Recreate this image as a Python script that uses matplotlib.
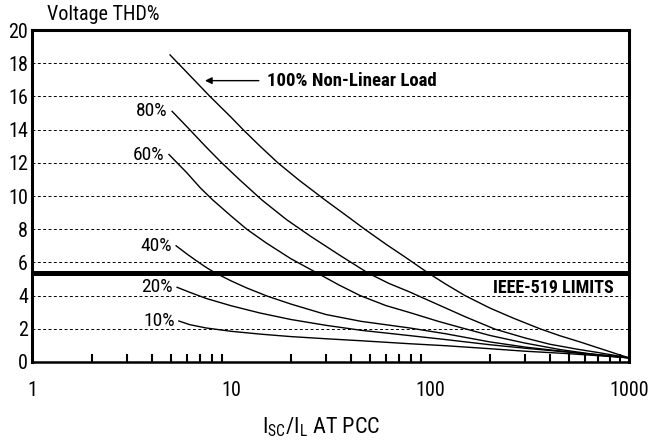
import matplotlib.pyplot as plt
from matplotlib.ticker import LogLocator, NullFormatter, FixedLocator

plt.rcParams['font.family'] = ['Roboto Condensed', 'Liberation Sans Narrow', 'Liberation Sans', 'DejaVu Sans']
plt.rcParams['mathtext.fontset'] = 'custom'
plt.rcParams['mathtext.rm'] = 'Roboto Condensed'

# Curves: (Isc/IL, voltage THD%)
x100 = [4.94, 6, 7.84, 10, 11.5, 14, 17.2, 22, 29.7, 38, 47, 60, 75, 98, 120, 150,
        200, 260, 357, 450, 570, 700, 850, 1000]
y100 = [18.5, 17.45, 16.0, 14.75, 14.0, 13.0, 12.0, 10.95, 9.76, 8.82, 8.0, 7.1, 6.32,
        5.36, 4.69, 4.0, 3.25, 2.66, 2.0, 1.58, 1.2, 0.85, 0.52, 0.25]

x80 = [5.06, 6.2, 7.5, 8.98, 11, 14.3, 19, 25, 35, 48.8, 62, 79, 110, 150, 212, 300,
       400, 550, 700, 1000]
y80 = [15.1, 14.0, 12.95, 12.0, 11.0, 9.76, 8.58, 7.59, 6.45, 5.36, 4.74, 4.22, 3.45,
       2.73, 1.98, 1.45, 1.07, 0.77, 0.57, 0.25]

x60 = [4.88, 6, 7, 8.1, 10, 12, 15, 20, 27, 35, 44.6, 60, 79, 110, 140, 200, 300,
       450, 650, 1000]
y60 = [12.5, 11.4, 10.5, 9.76, 8.8, 8.0, 7.18, 6.22, 5.37, 4.63, 4.0, 3.4, 2.98, 2.45,
       2.1, 1.6, 1.14, 0.75, 0.48, 0.25]

x40 = [5.3, 6, 6.7, 7.5, 8.3, 10, 12, 15.2, 20, 30, 45, 79, 120, 200, 300, 500, 700, 1000]
y40 = [7.0, 6.51, 6.1, 5.7, 5.38, 4.89, 4.46, 3.97, 3.49, 2.86, 2.45, 2.05, 1.7, 1.21,
       0.9, 0.6, 0.42, 0.25]

x20 = [5.36, 6.2, 7.5, 10, 14, 20, 30, 45, 79, 120, 200, 300, 500, 700, 1000]
y20 = [4.5, 4.2, 3.83, 3.39, 2.95, 2.56, 2.21, 1.91, 1.59, 1.35, 1.04, 0.83, 0.59,
       0.44, 0.26]

x10 = [5.47, 6.2, 7.5, 10, 14, 20, 30, 45, 79, 120, 200, 300, 500, 700, 1000]
y10 = [2.47, 2.25, 2.05, 1.85, 1.68, 1.53, 1.4, 1.28, 1.1, 0.98, 0.8, 0.65, 0.5,
       0.38, 0.25]

curve_labels = ['80%', '60%', '40%', '20%', '10%']
ieee_limit = 5.35
y_ticks = list(range(0, 21, 2))
x_ticks = [1, 10, 100, 1000]

fig = plt.figure(figsize=(6.5, 4.44), dpi=100)
ax = fig.add_axes([0.0492, 0.1847, 0.9185, 0.7477])

ax.set_xscale('log')
ax.set_xlim(1, 1000)
ax.set_ylim(0, 20)

# dashed grid
for g in range(2, 20, 2):
    ax.axhline(g, color='black', lw=0.7, ls=(0, (3, 2.5)), zorder=1)

curves = [(x100, y100), (x80, y80), (x60, y60), (x40, y40), (x20, y20), (x10, y10)]
for xs, ys in curves:
    ax.plot(xs, ys, color='black', lw=1.0, zorder=3)

for (xs, ys), lab in zip(curves[1:], curve_labels):
    ax.annotate(lab, (xs[0], ys[0]), xytext=(-3, 0), textcoords='offset points',
                ha='right', va='center', fontsize=14)

ax.axhline(ieee_limit, color='black', lw=3.6, zorder=4)
ax.text(0.975, 4.45, 'IEEE-519 LIMITS', transform=ax.get_yaxis_transform(),
        ha='right', va='center', fontsize=13, fontweight='bold')

ax.annotate('', xy=(7.4, 16.95), xytext=(13.8, 16.95),
            arrowprops=dict(arrowstyle='-|>', color='black', lw=1.0,
                            mutation_scale=10, shrinkA=0, shrinkB=0))
ax.text(15.2, 16.95, '100% Non-Linear Load', ha='left', va='center',
        fontsize=13.5, fontweight='bold')

for s in ax.spines.values():
    s.set_linewidth(2.2)
ax.spines['bottom'].set_linewidth(1.8)

ax.yaxis.set_major_locator(FixedLocator(y_ticks))
ax.tick_params(axis='y', length=0, pad=3, labelsize=14.5)
ax.xaxis.set_major_locator(FixedLocator(x_ticks))
ax.set_xticklabels([str(v) for v in x_ticks])
ax.xaxis.set_minor_locator(LogLocator(base=10, subs=range(2, 10)))
ax.xaxis.set_minor_formatter(NullFormatter())
ax.tick_params(axis='x', which='major', length=0, pad=14, labelsize=14.5)
ax.tick_params(axis='x', which='minor', direction='in', length=6, width=1.5)

ax.set_xlabel(r'I$_{\rm SC}$/I$_{\rm L}$ AT PCC', fontsize=16)
ax.xaxis.set_label_coords(0.485, -0.16)

fig.text(47 / 650, 1 - 15 / 444, 'Voltage THD%', ha='left', va='center', fontsize=14.5)

fig.savefig('out.png', dpi=100)
